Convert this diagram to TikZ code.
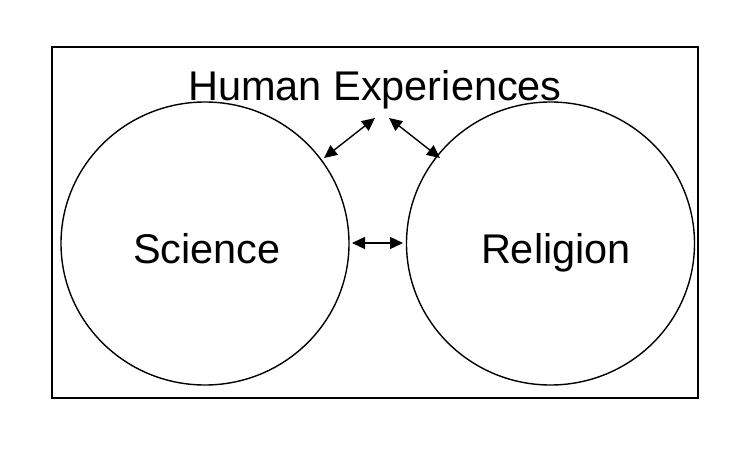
\documentclass[tikz,border=0pt]{standalone}
\usepackage{fontspec}
\setmainfont{Liberation Sans}
\usetikzlibrary{arrows.meta,shapes.geometric}
\tikzset{
  circ/.style={draw=black, line width=1.4pt, ellipse, minimum width=288pt, minimum height=283pt, inner sep=0pt},
  lbl/.style={font=\fontsize{41.5}{48}\selectfont, inner sep=0pt, anchor=base},
  dbl/.style={{Triangle[length=13pt,width=12pt]}-{Triangle[length=13pt,width=12pt]}, line width=1.4pt}
}
\begin{document}
\begin{tikzpicture}[x=1pt,y=-1pt]
\useasboundingbox (0,0) rectangle (750,450);
\fill[white] (0,0) rectangle (750,450);
\node[draw=black, line width=1.4pt, minimum width=646pt, minimum height=351pt, inner sep=0pt] (frame) at (375,222.5) {};
\node[circ] (sci) at (205,243.5) {};
\node[circ] (rel) at (550.5,243.5) {};
\node[lbl] (title) at (375,100) {Human Experiences};
\node[lbl] (scitxt) at (207,263) {Science};
\node[lbl] (reltxt) at (556,263) {Religion};
\coordinate (a1s) at (375,118);
\coordinate (a1e) at (324,158);
\coordinate (a2s) at (389,118);
\coordinate (a2e) at (440,158);
\coordinate (a3s) at (352,243);
\coordinate (a3e) at (403,243);
\draw[dbl] (a1s) -- (a1e);
\draw[dbl] (a2s) -- (a2e);
\draw[dbl] (a3s) -- (a3e);
\end{tikzpicture}
\end{document}
